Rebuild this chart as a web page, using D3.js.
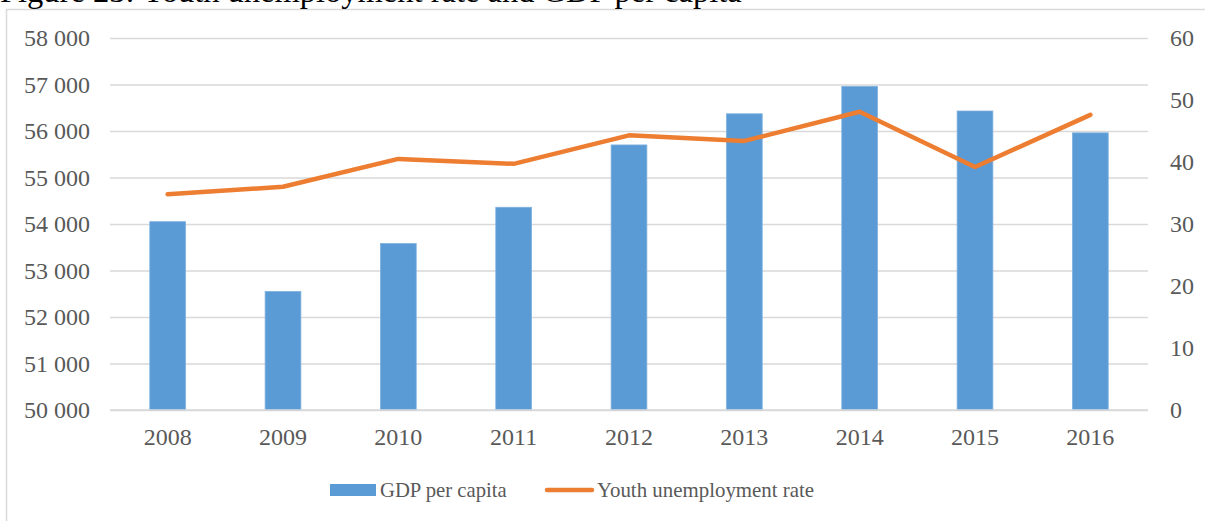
<!DOCTYPE html>
<html>
<head>
<meta charset="utf-8">
<script src="https://cdn.jsdelivr.net/npm/d3@7"></script>
<style>
  html, body { margin: 0; padding: 0; background: #fff; }
  svg { display: block; }
  text { font-family: "Liberation Serif", "Times New Roman", serif; }
</style>
</head>
<body>
<svg id="chart" width="1205" height="521"></svg>
<script>
const years = ["2008", "2009", "2010", "2011", "2012", "2013", "2014", "2015", "2016"];
const gdpPerCapita = [54050, 52550, 53580, 54360, 55700, 56370, 56960, 56430, 55960];
const youthUnemployment = [34.8, 36.0, 40.5, 39.7, 44.3, 43.4, 48.1, 39.2, 47.6];
const leftTicks = [50000, 51000, 52000, 53000, 54000, 55000, 56000, 57000, 58000];
const rightTicks = [0, 10, 20, 30, 40, 50, 60];
const titleText = "Figure 23: Youth unemployment rate and GDP per capita";
const legendLabels = ["GDP per capita", "Youth unemployment rate"];

const blue = "#5B9BD5", orange = "#ED7D31", grid = "#D9D9D9", txt = "#595959";

const svg = d3.select("#chart");

// frame
svg.append("rect").attr("x", 6.5).attr("y", 9.5).attr("width", 1205).attr("height", 540)
  .attr("fill", "#fff").attr("stroke", grid).attr("stroke-width", 1.5);

// title (partially cut off at top, as in the source image)
svg.append("text").attr("x", 0).attr("y", 2).attr("font-size", 32.5).attr("fill", "#000")
  .text(titleText);

const plot = { left: 110, right: 1148, top: 38, bottom: 410 };

const x = d3.scaleBand().domain(years).range([plot.left, plot.right])
  .paddingInner(0.69).paddingOuter(0.345);
const yL = d3.scaleLinear().domain([50000, 58000]).range([plot.bottom, plot.top]);
const yR = d3.scaleLinear().domain([0, 60]).range([plot.bottom, plot.top]);

const fmt = d => d3.format(",")(d).replace(/,/g, " ");

// grid lines + left axis
const gL = svg.append("g").attr("transform", `translate(${plot.left},0)`)
  .call(d3.axisLeft(yL).tickValues(leftTicks).tickFormat(fmt)
    .tickSize(-(plot.right - plot.left)).tickPadding(20));
gL.select(".domain").remove();
gL.selectAll(".tick line").attr("stroke", grid).attr("stroke-width", 1.5);
gL.selectAll(".tick text").attr("font-size", 24).attr("fill", txt)
  .attr("font-family", "Liberation Serif, serif");

// right axis
const gR = svg.append("g").attr("transform", `translate(${plot.right},0)`)
  .call(d3.axisRight(yR).tickValues(rightTicks).tickSize(0).tickPadding(22));
gR.select(".domain").remove();
gR.selectAll(".tick text").attr("font-size", 24).attr("fill", txt)
  .attr("font-family", "Liberation Serif, serif");

// bars
svg.append("g").selectAll("rect").data(years).join("rect")
  .attr("x", (d) => x(d))
  .attr("width", x.bandwidth())
  .attr("y", (d, i) => yL(gdpPerCapita[i]))
  .attr("height", (d, i) => yL(50000) - yL(gdpPerCapita[i]))
  .attr("fill", blue)
  .attr("stroke", "#7FB1DF").attr("stroke-width", 0.8);

// x axis
const gX = svg.append("g").attr("transform", `translate(0,${plot.bottom})`)
  .call(d3.axisBottom(x).tickSize(0).tickPadding(18));
gX.select(".domain").attr("stroke", grid).attr("stroke-width", 1.5)
  .attr("d", `M${plot.left},0H${plot.right}`);
gX.selectAll(".tick text").attr("font-size", 24).attr("fill", txt)
  .attr("font-family", "Liberation Serif, serif");

// line
const line = d3.line()
  .x((d, i) => x(years[i]) + x.bandwidth() / 2)
  .y(d => yR(d));
svg.append("path").datum(youthUnemployment)
  .attr("d", line).attr("fill", "none").attr("stroke", orange)
  .attr("stroke-width", 4.5).attr("stroke-linejoin", "round").attr("stroke-linecap", "round");

// legend
const lg = svg.append("g");
lg.append("rect").attr("x", 330).attr("y", 484).attr("width", 46).attr("height", 12).attr("fill", blue);
lg.append("text").attr("x", 380).attr("y", 497).attr("font-size", 22).attr("fill", txt)
  .attr("transform", "translate(380,0) scale(0.94,1) translate(-380,0)")
  .text(legendLabels[0]);
lg.append("line").attr("x1", 547).attr("x2", 592).attr("y1", 490).attr("y2", 490)
  .attr("stroke", orange).attr("stroke-width", 4.5).attr("stroke-linecap", "round");
lg.append("text").attr("x", 597).attr("y", 497).attr("font-size", 22).attr("fill", txt)
  .attr("transform", "translate(597,0) scale(0.95,1) translate(-597,0)")
  .text(legendLabels[1]);
</script>
</body>
</html>
